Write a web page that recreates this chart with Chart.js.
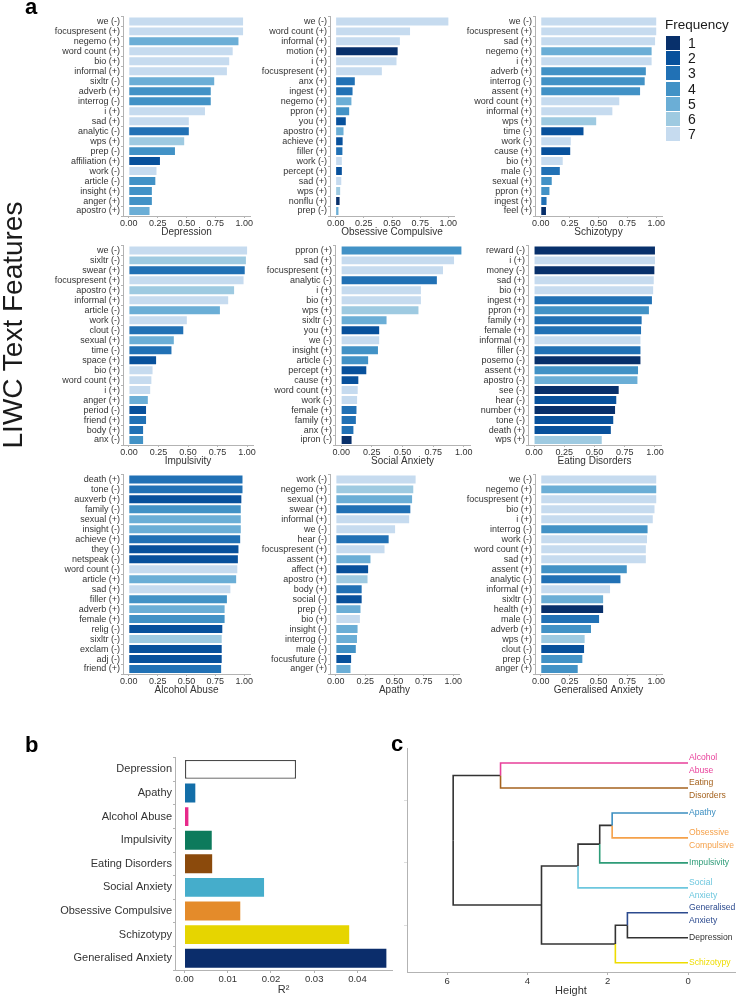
<!DOCTYPE html>
<html><head><meta charset="utf-8">
<script src="https://cdn.jsdelivr.net/npm/chart.js@4.4.1/dist/chart.umd.min.js"></script>
<style>
html,body{margin:0;padding:0;background:#fff;}
#wrap{position:relative;width:737px;height:998px;overflow:hidden;font-family:"Liberation Sans",Arial,Helvetica,sans-serif;background:#fff;}
canvas{position:absolute;}
.plabel{position:absolute;font-weight:bold;font-size:22px;line-height:22px;color:#000;}
#ytitle{position:absolute;width:320px;text-align:center;font-size:28px;line-height:28px;color:#1a1a1a;transform:rotate(-90deg);transform-origin:center center;white-space:nowrap;}
#legend{position:absolute;left:665px;top:16px;color:#1a1a1a;}
#legend .lt{font-size:13.5px;line-height:18px;margin-bottom:1px;}
#legend .row{display:flex;align-items:center;height:15.3px;}
#legend .sw{width:14px;height:14px;margin-left:1px;margin-right:8px;}
#legend .num{font-size:14px;line-height:14px;}
</style></head>
<body><div id="wrap"></div>
<script>
// ---------------- DATA ----------------
const freqLevels = [1, 2, 3, 4, 5, 6, 7];
const freqColors = ['#08306b', '#08519c', '#2171b5', '#4292c6', '#6baed6', '#9ecae1', '#c6dbef'];

const depressionFeatures = ['we (-)','focuspresent (+)','negemo (+)','word count (+)','bio (+)','informal (+)','sixltr (-)','adverb (+)','interrog (-)','i (+)','sad (+)','analytic (-)','wps (+)','prep (-)','affiliation (+)','work (-)','article (-)','insight (+)','anger (+)','apostro (+)'];
const depressionValues = [0.99,0.99,0.95,0.90,0.87,0.85,0.74,0.71,0.71,0.66,0.52,0.52,0.48,0.40,0.27,0.24,0.23,0.20,0.20,0.18];
const depressionFreq = [7,7,5,7,7,7,5,4,4,7,7,3,6,4,2,7,4,4,4,5];

const ocFeatures = ['we (-)','word count (+)','informal (+)','motion (+)','i (+)','focuspresent (+)','anx (+)','ingest (+)','negemo (+)','ppron (+)','you (+)','apostro (+)','achieve (+)','filler (+)','work (-)','percept (+)','sad (+)','wps (+)','nonflu (+)','prep (-)'];
const ocValues = [1.0,0.66,0.57,0.55,0.54,0.41,0.17,0.15,0.14,0.12,0.09,0.07,0.062,0.06,0.055,0.055,0.05,0.04,0.035,0.025];
const ocFreq = [7,7,7,1,7,7,3,3,5,4,2,5,2,3,7,2,7,6,1,5];

const schizoFeatures = ['we (-)','focuspresent (+)','sad (+)','negemo (+)','i (+)','adverb (+)','interrog (-)','assent (+)','word count (+)','informal (+)','wps (+)','time (-)','work (-)','cause (+)','bio (+)','male (-)','sexual (+)','ppron (+)','ingest (+)','feel (+)'];
const schizoValues = [1.0,1.0,0.99,0.96,0.96,0.91,0.90,0.86,0.68,0.62,0.48,0.37,0.26,0.255,0.19,0.165,0.095,0.075,0.05,0.045];
const schizoFreq = [7,7,7,5,7,4,4,4,7,7,6,2,7,2,7,3,4,4,3,1];

const impulsFeatures = ['we (-)','sixltr (-)','swear (+)','focuspresent (+)','apostro (+)','informal (+)','article (-)','work (-)','clout (-)','sexual (+)','time (-)','space (+)','bio (+)','word count (+)','i (+)','anger (+)','period (-)','friend (+)','body (+)','anx (-)'];
const impulsValues = [1.0,0.99,0.98,0.97,0.89,0.84,0.77,0.49,0.46,0.38,0.36,0.23,0.20,0.19,0.18,0.16,0.145,0.145,0.12,0.12];
const impulsFreq = [7,6,3,7,6,7,5,7,3,5,3,2,7,7,7,5,2,3,3,4];

const socialFeatures = ['ppron (+)','sad (+)','focuspresent (+)','analytic (-)','i (+)','bio (+)','wps (+)','sixltr (-)','you (+)','we (-)','insight (+)','article (-)','percept (+)','cause (+)','word count (+)','work (-)','female (+)','family (+)','anx (+)','ipron (-)'];
const socialValues = [0.98,0.92,0.83,0.78,0.65,0.65,0.63,0.37,0.31,0.31,0.30,0.22,0.205,0.14,0.135,0.13,0.125,0.12,0.10,0.085];
const socialFreq = [4,7,7,3,7,7,6,5,2,7,4,4,2,2,7,7,3,3,3,1];

const eatingFeatures = ['reward (-)','i (+)','money (-)','sad (+)','bio (+)','ingest (+)','ppron (+)','family (+)','female (+)','informal (+)','filler (-)','posemo (-)','assent (+)','apostro (-)','see (-)','hear (-)','number (+)','tone (-)','death (+)','wps (+)'];
const eatingValues = [1.0,1.0,0.995,0.99,0.985,0.975,0.95,0.89,0.885,0.88,0.88,0.88,0.86,0.855,0.70,0.68,0.67,0.655,0.635,0.56];
const eatingFreq = [1,7,1,7,7,3,4,3,3,7,3,1,4,5,1,2,1,2,2,6];

const alcoholFeatures = ['death (+)','tone (-)','auxverb (+)','family (-)','sexual (+)','insight (-)','achieve (+)','they (-)','netspeak (-)','word count (-)','article (+)','sad (+)','filler (+)','adverb (+)','female (+)','relig (-)','sixltr (-)','exclam (-)','adj (-)','friend (+)'];
const alcoholValues = [0.985,0.985,0.975,0.97,0.97,0.97,0.965,0.95,0.945,0.94,0.93,0.88,0.85,0.83,0.83,0.81,0.805,0.805,0.805,0.80];
const alcoholFreq = [3,3,2,4,5,5,3,2,2,7,5,7,4,5,4,2,6,2,2,3];

const apathyFeatures = ['work (-)','negemo (+)','sexual (+)','swear (+)','informal (+)','we (-)','hear (-)','focuspresent (+)','assent (+)','affect (+)','apostro (+)','body (+)','social (-)','prep (-)','bio (+)','insight (-)','interrog (-)','male (-)','focusfuture (-)','anger (+)'];
const apathyValues = [0.68,0.66,0.65,0.635,0.625,0.505,0.45,0.415,0.295,0.275,0.27,0.22,0.22,0.21,0.205,0.185,0.18,0.17,0.13,0.125];
const apathyFreq = [7,6,5,3,7,7,3,7,5,2,6,3,2,5,7,5,5,4,2,5];

const anxietyFeatures = ['we (-)','negemo (+)','focuspresent (+)','bio (+)','i (+)','interrog (-)','work (-)','word count (+)','sad (+)','assent (+)','analytic (-)','informal (+)','sixltr (-)','health (+)','male (-)','adverb (+)','wps (+)','clout (-)','prep (-)','anger (+)'];
const anxietyValues = [1.0,1.0,1.0,0.985,0.97,0.925,0.92,0.91,0.91,0.745,0.69,0.60,0.54,0.54,0.505,0.435,0.38,0.375,0.36,0.32];
const anxietyFreq = [7,5,7,7,7,4,7,7,7,4,3,7,5,1,3,4,6,2,4,4];

const freqTicks = [0, 0.25, 0.5, 0.75, 1];

const r2Labels = ['Depression','Apathy','Alcohol Abuse','Impulsivity','Eating Disorders','Social Anxiety','Obsessive Compulsive','Schizotypy','Generalised Anxiety'];
const r2Values = [0.0258, 0.0025, 0.0009, 0.0063, 0.0064, 0.0184, 0.0129, 0.0381, 0.0467];
const r2Colors = ['#ffffff','#136ea8','#e7298a','#0d7a5c','#8b4a0c','#45adcb','#e48b2a','#e6d500','#0b2d6b'];
const r2Ticks = [0, 0.01, 0.02, 0.03, 0.04];

const dendroLeaves = ['Alcohol Abuse','Eating Disorders','Apathy','Obsessive Compulsive','Impulsivity','Social Anxiety','Generalised Anxiety','Depression','Schizotypy'];
const dendroLeafColors = ['#e8409a','#a5631f','#3b8ec0','#f5a14a','#2e9c78','#6dc7de','#2c4a8e','#333333','#eedc00'];
// hclust-style merges: negative = leaf (1-based), positive = earlier merge (1-based)
const dendroMergeA = [-1, -3, 2, 3, -7, 5, 4, 1];
const dendroMergeB = [-2, -4, -5, -6, -8, -9, 6, 7];
const dendroHeights = [4.67, 1.89, 2.20, 2.74, 1.51, 1.81, 3.65, 5.85];
const heightTicks = [0, 2, 4, 6];

// ---------------- RENDER ----------------
const FONT = '"Liberation Sans", Arial, Helvetica, sans-serif';
const TXT = '#333333';
const AX = '#b3b3b3';
Chart.defaults.font.family = FONT;
const wrap = document.getElementById('wrap');

function addCanvas(left, top, w, h) {
  const c = document.createElement('canvas');
  w = Math.round(w); h = Math.round(h);
  c.width = w; c.height = h;
  Object.assign(c.style, {left: Math.round(left) + 'px', top: Math.round(top) + 'px', width: w + 'px', height: h + 'px'});
  wrap.appendChild(c);
  return c;
}

function barPanel(p) {
  const W = 110, padTop = 6, padRight = 12, H = 22, areaH = 200;
  const xmin = -0.05, xmax = 1.05;
  const areaW = Math.round((xmax - xmin) * p.ppu);
  const cv = addCanvas(p.axisX - W, p.areaTop - padTop, W + areaW + padRight, padTop + areaH + H);
  new Chart(cv, {
    type: 'bar',
    data: {labels: p.features, datasets: [{
      data: p.values,
      backgroundColor: p.freq.map(f => freqColors[freqLevels.indexOf(f)]),
      borderWidth: 0, barPercentage: 0.8, categoryPercentage: 1
    }]},
    options: {
      indexAxis: 'y', responsive: false, animation: false, devicePixelRatio: 1, events: [],
      layout: {padding: {top: padTop, right: padRight, left: 0, bottom: 0}},
      plugins: {legend: {display: false}, tooltip: {enabled: false}},
      scales: {
        x: {
          min: xmin, max: xmax,
          afterBuildTicks: s => { s.ticks = freqTicks.map(v => ({value: v})); },
          afterFit: s => { s.height = H; },
          grid: {drawOnChartArea: false, drawTicks: true, tickLength: 2, color: AX},
          border: {color: AX, width: 1},
          ticks: {padding: 0, color: TXT, font: {size: 9}, autoSkip: false, maxRotation: 0, callback: v => Number(v).toFixed(2)},
          title: {display: true, text: p.title, color: TXT, font: {size: 10}, padding: {top: 0, bottom: 0}}
        },
        y: {
          afterFit: s => { s.width = W; },
          grid: {drawOnChartArea: false, drawTicks: true, tickLength: 2, color: AX},
          border: {color: AX, width: 1},
          ticks: {padding: 1, color: TXT, font: {size: 9}, autoSkip: false}
        }
      }
    }
  });
}

const panels = [
  {title: 'Depression', features: depressionFeatures, values: depressionValues, freq: depressionFreq, axisX: 123, ppu: 115, areaTop: 16},
  {title: 'Obsessive Compulsive', features: ocFeatures, values: ocValues, freq: ocFreq, axisX: 330, ppu: 113, areaTop: 16},
  {title: 'Schizotypy', features: schizoFeatures, values: schizoValues, freq: schizoFreq, axisX: 535, ppu: 115, areaTop: 16},
  {title: 'Impulsivity', features: impulsFeatures, values: impulsValues, freq: impulsFreq, axisX: 123, ppu: 118, areaTop: 245},
  {title: 'Social Anxiety', features: socialFeatures, values: socialValues, freq: socialFreq, axisX: 335, ppu: 123, areaTop: 245},
  {title: 'Eating Disorders', features: eatingFeatures, values: eatingValues, freq: eatingFreq, axisX: 528, ppu: 121, areaTop: 245},
  {title: 'Alcohol Abuse', features: alcoholFeatures, values: alcoholValues, freq: alcoholFreq, axisX: 123, ppu: 115, areaTop: 474},
  {title: 'Apathy', features: apathyFeatures, values: apathyValues, freq: apathyFreq, axisX: 330, ppu: 117, areaTop: 474},
  {title: 'Generalised Anxiety', features: anxietyFeatures, values: anxietyValues, freq: anxietyFreq, axisX: 535, ppu: 115, areaTop: 474}
];
panels.forEach(barPanel);

// ---- panel b ----
(function () {
  const W = 160, padTop = 6, padRight = 15, H = 27;
  const xmin = -0.0022, xmax = 0.048, ppu = 4325;
  const areaW = Math.round((xmax - xmin) * ppu);
  const areaTop = 756, areaH = 214, axisX = 175;
  const cv = addCanvas(axisX - W, areaTop - padTop, W + areaW + padRight, padTop + areaH + H);
  new Chart(cv, {
    type: 'bar',
    data: {labels: r2Labels, datasets: [{
      data: r2Values,
      backgroundColor: r2Colors,
      borderColor: r2Colors.map(c => c === '#ffffff' ? '#4a4a4a' : c),
      borderWidth: r2Colors.map(c => c === '#ffffff' ? 1.3 : 0),
      borderSkipped: false,
      barPercentage: 0.8, categoryPercentage: 1
    }]},
    options: {
      indexAxis: 'y', responsive: false, animation: false, devicePixelRatio: 1, events: [],
      layout: {padding: {top: padTop, right: padRight, left: 0, bottom: 0}},
      plugins: {legend: {display: false}, tooltip: {enabled: false}},
      scales: {
        x: {
          min: xmin, max: xmax,
          afterBuildTicks: s => { s.ticks = r2Ticks.map(v => ({value: v})); },
          afterFit: s => { s.height = H; },
          grid: {drawOnChartArea: false, drawTicks: true, tickLength: 3, color: AX},
          border: {color: AX, width: 1},
          ticks: {padding: 1, color: TXT, font: {size: 9.5}, autoSkip: false, maxRotation: 0, callback: v => Number(v).toFixed(2)},
          title: {display: true, text: 'R²', color: TXT, font: {size: 11}, padding: {top: 0, bottom: 0}}
        },
        y: {
          afterFit: s => { s.width = W; },
          grid: {drawOnChartArea: false, drawTicks: true, tickLength: 2, color: AX},
          border: {color: AX, width: 1},
          ticks: {padding: 1, color: TXT, font: {size: 11}, autoSkip: false}
        }
      }
    }
  });
})();

// ---- panel c: dendrogram ----
(function () {
  const n = dendroLeaves.length;
  const nodeY = [], nodeH = [];
  const pos = ref => ref < 0 ? {y: n - (-ref - 1), h: 0, leaf: -ref - 1} : {y: nodeY[ref - 1], h: nodeH[ref - 1], leaf: -1};
  const datasets = [];
  dendroHeights.forEach((h, k) => {
    const a = pos(dendroMergeA[k]), b = pos(dendroMergeB[k]);
    const py = (a.y + b.y) / 2;
    nodeY[k] = py; nodeH[k] = h;
    [a, b].forEach(c => {
      const col = c.leaf >= 0 ? dendroLeafColors[c.leaf] : '#333333';
      datasets.push({
        data: [{x: h, y: py}, {x: h, y: c.y}, {x: c.h, y: c.y}],
        showLine: true, borderColor: col, borderWidth: 1.6, pointRadius: 0,
        fill: false, tension: 0, clip: false, order: c.leaf >= 0 ? 0 : 1
      });
    });
  });

  const leafLabels = {
    id: 'leafLabels',
    afterDraw(chart) {
      const {ctx, scales: {x, y}} = chart;
      ctx.save();
      ctx.font = '8.6px ' + FONT;
      ctx.textAlign = 'left';
      ctx.textBaseline = 'middle';
      dendroLeaves.forEach((name, i) => {
        const lines = name.split(' ');
        const px = x.getPixelForValue(0) + 1;
        const py = y.getPixelForValue(n - i);
        ctx.fillStyle = dendroLeafColors[i];
        if (lines.length === 1) ctx.fillText(name, px, py);
        else lines.forEach((ln, k) => ctx.fillText(ln, px, py + 1 + (k - (lines.length - 1) / 2) * 12.7));
      });
      ctx.restore();
    }
  };

  const W = 8, padTop = 4, padRight = 2, H = 26;
  const xmin = -1.17, xmax = 7;
  const areaLeft = 407, areaW = 328, areaTop = 748, areaH = 224;
  const cv = addCanvas(areaLeft - W, areaTop - padTop, W + areaW + padRight, padTop + areaH + H);
  new Chart(cv, {
    type: 'scatter',
    data: {datasets},
    options: {
      responsive: false, animation: false, devicePixelRatio: 1, events: [],
      layout: {padding: {top: padTop, right: padRight, left: 0, bottom: 0}},
      plugins: {legend: {display: false}, tooltip: {enabled: false}},
      scales: {
        x: {
          type: 'linear', reverse: true, min: xmin, max: xmax,
          afterBuildTicks: s => { s.ticks = heightTicks.map(v => ({value: v})); },
          afterFit: s => { s.height = H; },
          grid: {drawOnChartArea: false, drawTicks: true, tickLength: 3, color: AX},
          border: {color: AX, width: 1},
          ticks: {padding: 1, color: TXT, font: {size: 9.5}, autoSkip: false, maxRotation: 0, callback: v => String(v)},
          title: {display: true, text: 'Height', color: TXT, font: {size: 11}, padding: {top: 0, bottom: 0}}
        },
        y: {
          type: 'linear', min: 0.63, max: 9.6,
          afterBuildTicks: s => { s.ticks = [2.5, 5, 7.5].map(v => ({value: v})); },
          afterFit: s => { s.width = W; },
          grid: {drawOnChartArea: false, drawTicks: true, tickLength: 3, color: '#dddddd'},
          border: {color: AX, width: 1},
          ticks: {display: false}
        }
      }
    },
    plugins: [leafLabels]
  });
})();

// ---- overlays: panel letters, axis title, legend ----
function addDiv(cls, text, left, top) {
  const d = document.createElement('div');
  d.className = cls; d.textContent = text;
  d.style.left = left + 'px'; d.style.top = top + 'px';
  wrap.appendChild(d);
  return d;
}
addDiv('plabel', 'a', 25, -4);
addDiv('plabel', 'b', 25, 734);
addDiv('plabel', 'c', 391, 733);

const yt = document.createElement('div');
yt.id = 'ytitle'; yt.textContent = 'LIWC Text Features';
yt.style.left = (13 - 160) + 'px'; yt.style.top = (325 - 14) + 'px';
wrap.appendChild(yt);

const lg = document.createElement('div');
lg.id = 'legend';
const lt = document.createElement('div'); lt.className = 'lt'; lt.textContent = 'Frequency';
lg.appendChild(lt);
freqLevels.forEach((lv, i) => {
  const r = document.createElement('div'); r.className = 'row';
  const sw = document.createElement('div'); sw.className = 'sw'; sw.style.background = freqColors[i];
  const nm = document.createElement('div'); nm.className = 'num'; nm.textContent = String(lv);
  r.appendChild(sw); r.appendChild(nm); lg.appendChild(r);
});
wrap.appendChild(lg);
</script>
</body></html>
